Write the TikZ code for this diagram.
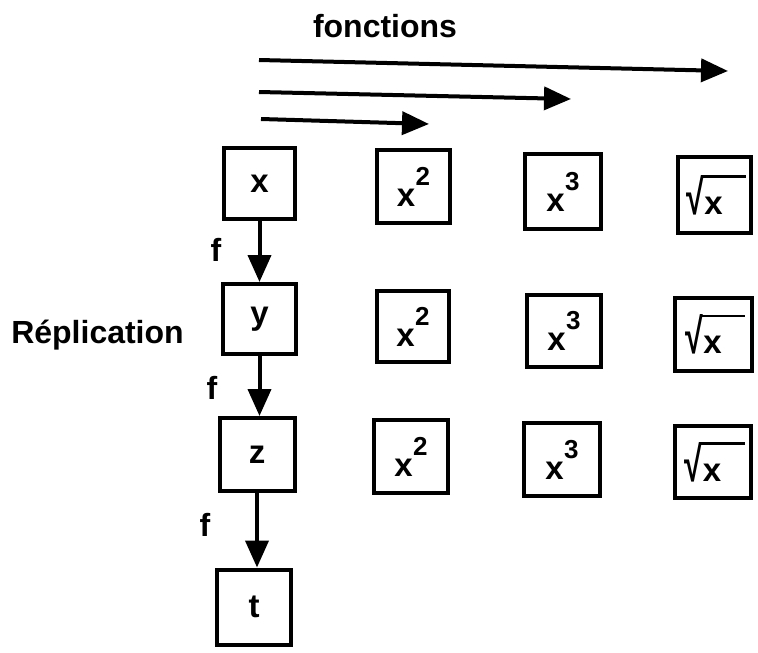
\documentclass[tikz,border=0pt]{standalone}
\usepackage{fontspec}
\usepackage{graphicx}
\setmainfont{Liberation Sans}
\usetikzlibrary{arrows.meta}
\newsavebox\radbox
\newcommand\supx[1]{x\kern0.5pt\raisebox{21pt}{\fontsize{26}{26}\selectfont\bfseries #1}}
\newcommand\sqx{\sbox\radbox{\scalebox{0.95}[1.45]{\fontsize{34}{34}\selectfont\bfseries √}}%
  \usebox\radbox\kern-1.5pt\rlap{\rule[\dimexpr\ht\radbox-2.5pt\relax]{44pt}{2.5pt}}%
  \kern2pt x\kern20pt}
\begin{document}
\begin{tikzpicture}[x=1pt,y=-1pt,
  box/.style={draw,line width=4pt,inner sep=0pt,
    font=\fontsize{33}{33}\selectfont\bfseries},
  lbl/.style={font=\fontsize{32}{32}\selectfont\bfseries,inner sep=0pt},
  arr/.style={line width=4pt,-{Triangle[length=27pt,width=23pt]}}]
\useasboundingbox (0,0) rectangle (758,653);
% column 1
\node[box,minimum width=71pt,minimum height=71pt] (bx) at (259.5,183.5) {x};
\node[box,minimum width=73pt,minimum height=70pt] (by) at (259.5,319) {y};
\node[box,minimum width=75pt,minimum height=73pt] (bz) at (257,454.5) {z};
\node[box,minimum width=74pt,minimum height=75pt] (bt) at (254,607) {t};
% row 1
\node[box,minimum width=73pt,minimum height=73pt] (r1a) at (413.5,186.5) {\supx{2}};
\node[box,minimum width=76pt,minimum height=75pt] (r1b) at (563,191.5) {\supx{3}};
\node[box,minimum width=73pt,minimum height=76pt] (r1c) at (714.5,195) {\sqx};
% row 2
\node[box,minimum width=72pt,minimum height=71pt] (r2a) at (413,326.5) {\supx{2}};
\node[box,minimum width=74pt,minimum height=72pt] (r2b) at (564,331) {\supx{3}};
\node[box,minimum width=77pt,minimum height=73pt] (r2c) at (713.5,334.5) {\sqx};
% row 3
\node[box,minimum width=74pt,minimum height=73pt] (r3a) at (411,456.5) {\supx{2}};
\node[box,minimum width=76pt,minimum height=73pt] (r3b) at (562,459.5) {\supx{3}};
\node[box,minimum width=76pt,minimum height=72pt] (r3c) at (713,462) {\sqx};
% replication arrows
\draw[arr] (bx.south) -- (bx.south |- by.north);
\draw[arr] (by.south) -- (by.south |- bz.north);
\draw[arr] (bz.south) -- (bz.south |- bt.north);
\node[lbl] (f1) at (216,250) {f};
\node[lbl] (f2) at (212,388) {f};
\node[lbl] (f3) at (205,525) {f};
\node[lbl,anchor=base] (rep) at (97.5,343) {Réplication};
% function arrows
\node[lbl,anchor=base] (fon) at (385,37) {fonctions};
\coordinate (a1s) at (259,60);  \coordinate (a1e) at (728,71);
\coordinate (a2s) at (259,92);  \coordinate (a2e) at (571,99);
\coordinate (a3s) at (261,119); \coordinate (a3e) at (429,124);
\draw[arr] (a1s) -- (a1e);
\draw[arr] (a2s) -- (a2e);
\draw[arr] (a3s) -- (a3e);
\end{tikzpicture}
\end{document}
